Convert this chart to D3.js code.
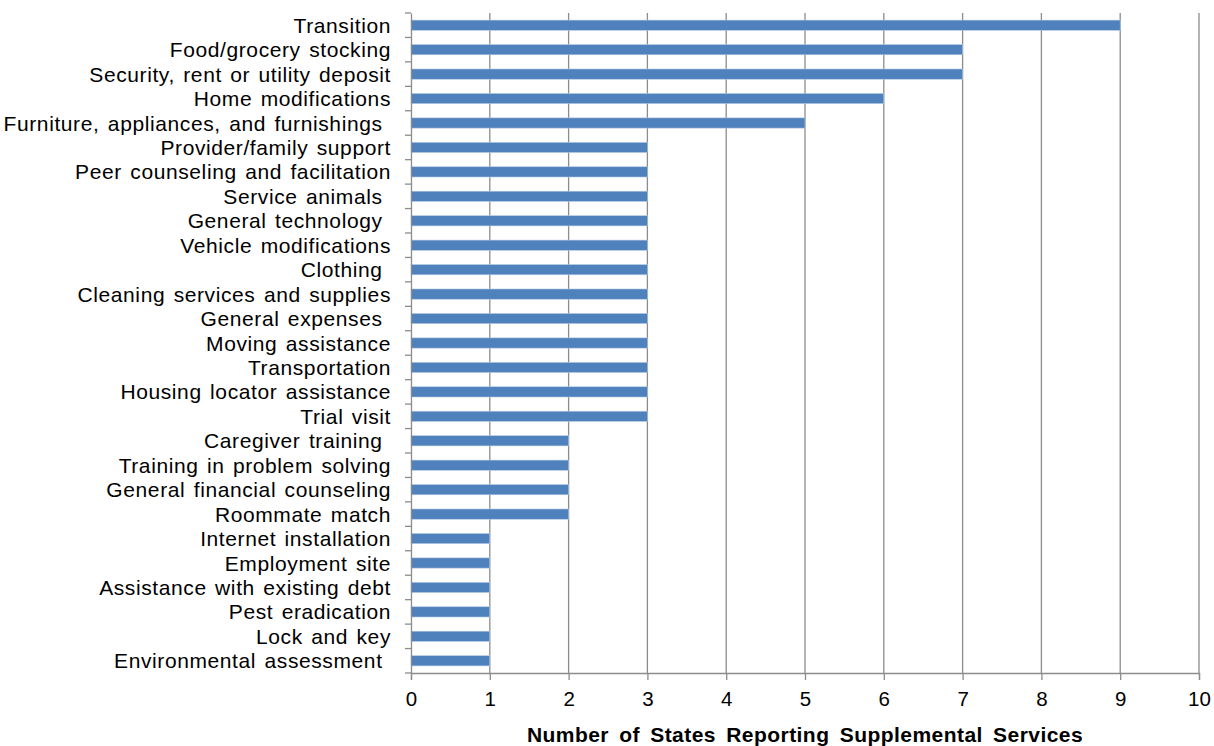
<!DOCTYPE html>
<html>
<head>
<meta charset="utf-8">
<script src="https://cdn.jsdelivr.net/npm/d3@7"></script>
<style>
  body { margin: 0; background: #fff; }
  text { font-family: "Liberation Sans", Arial, sans-serif; }
</style>
</head>
<body>
<main></main>
<script>
// data
const services = ['Transition', 'Food/grocery stocking', 'Security, rent or utility deposit', 'Home modifications',
  'Furniture, appliances, and furnishings ', 'Provider/family support', 'Peer counseling and facilitation', 'Service animals ',
  'General technology ', 'Vehicle modifications', 'Clothing ', 'Cleaning services and supplies', 'General expenses ',
  'Moving assistance', 'Transportation', 'Housing locator assistance', 'Trial visit', 'Caregiver training ',
  'Training in problem solving', 'General financial counseling', 'Roommate match', 'Internet installation',
  'Employment site', 'Assistance with existing debt', 'Pest eradication', 'Lock and key', 'Environmental assessment '];
const states = [9, 7, 7, 6, 5, 3, 3, 3, 3, 3, 3, 3, 3, 3, 3, 3, 3, 2, 2, 2, 2, 1, 1, 1, 1, 1, 1];
const xTicks = [0, 1, 2, 3, 4, 5, 6, 7, 8, 9, 10];
const xTitle = 'Number of States Reporting Supplemental Services';

const width = 1214;
const height = 746;
const plotLeft = 411, plotRight = 1199, plotTop = 13, plotBottom = 673;

const svg = d3.select('main')
  .append('svg')
  .attr('width', width)
  .attr('height', height);

// scales
const xScale = d3.scaleLinear()
  .domain([0, 10])
  .range([plotLeft, plotRight]);

const yScale = d3.scaleBand()
  .domain(services)
  .range([plotTop, plotBottom])
  .paddingInner(0.58)
  .paddingOuter(0.29);

// gridlines
svg.append('g')
  .selectAll('line')
  .data(xTicks.slice(1))
  .enter()
  .append('line')
  .attr('x1', d => xScale(d))
  .attr('x2', d => xScale(d))
  .attr('y1', plotTop)
  .attr('y2', plotBottom)
  .attr('stroke', '#8c8c8c')
  .attr('stroke-width', 1.3);

// bars
svg.append('g')
  .selectAll('rect')
  .data(services)
  .enter()
  .append('rect')
  .attr('x', xScale(0))
  .attr('y', d => yScale(d))
  .attr('width', (d, i) => xScale(states[i]) - xScale(0))
  .attr('height', yScale.bandwidth())
  .attr('fill', '#4f81bd')
  .attr('stroke', '#b9cde5')
  .attr('stroke-width', 0.6);

// x axis
const xAxis = svg.append('g')
  .attr('transform', `translate(0,${plotBottom})`)
  .call(d3.axisBottom(xScale).tickValues(xTicks).tickSize(7).tickPadding(11).tickFormat(d3.format('d')));
xAxis.select('.domain').attr('stroke', '#8c8c8c').attr('stroke-width', 1.3);
xAxis.selectAll('.tick line').attr('stroke', '#8c8c8c').attr('stroke-width', 1.3);
xAxis.selectAll('.tick text').attr('font-size', 20.5).attr('fill', '#000')
  .attr('font-family', '"Liberation Sans", Arial, sans-serif');

// y axis with ticks between categories
const yAxis = svg.append('g')
  .attr('transform', `translate(${plotLeft},0)`)
  .call(d3.axisLeft(yScale).tickSize(0).tickPadding(20));
yAxis.select('.domain').attr('stroke', '#8c8c8c').attr('stroke-width', 1.3);
yAxis.selectAll('.tick text').attr('font-size', 21).attr('fill', '#000')
  .attr('font-family', '"Liberation Sans", Arial, sans-serif')
  .attr('dy', '0.36em')
  .attr('letter-spacing', 0.6)
  .attr('word-spacing', 2)
  .style('white-space', 'pre');

const step = (plotBottom - plotTop) / services.length;
svg.append('g')
  .selectAll('line')
  .data(d3.range(services.length + 1))
  .enter()
  .append('line')
  .attr('x1', plotLeft - 6)
  .attr('x2', plotLeft)
  .attr('y1', d => plotTop + d * step)
  .attr('y2', d => plotTop + d * step)
  .attr('stroke', '#8c8c8c')
  .attr('stroke-width', 1.3);

// axis title
svg.append('text')
  .attr('x', 805)
  .attr('y', 742)
  .attr('text-anchor', 'middle')
  .attr('font-size', 21)
  .attr('font-weight', 'bold')
  .attr('letter-spacing', 0.45)
  .attr('word-spacing', 4)
  .text(xTitle);
</script>
</body>
</html>
